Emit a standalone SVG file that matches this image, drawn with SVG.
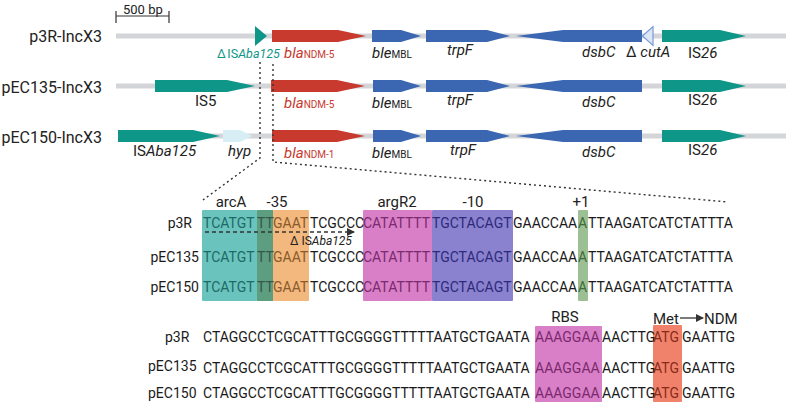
<svg xmlns="http://www.w3.org/2000/svg" width="789" height="405" viewBox="0 0 789 405">
<defs>
<style>
text{font-family:Roboto,"Liberation Sans",sans-serif;fill:#222}
.rl{font-size:16px;text-anchor:end}
.gl{font-size:15px}
.it{font-style:italic}
.sub{font-size:10px;font-style:normal}
.bb{fill:#d3d5d9}
.teal{fill:#0e9688}
.red{fill:#c8392e}
.blue{fill:#3b66b2}
.seq{font-size:14px;fill:#1a1a1a}
.lab{font-size:15px;text-anchor:middle}
.dot{fill:none;stroke:#333;stroke-width:1.4;stroke-dasharray:2 3}
</style>
<marker id="ah" markerWidth="8" markerHeight="8" refX="7" refY="4" orient="auto" markerUnits="userSpaceOnUse">
<path d="M0,0 L8,4 L0,8 Z" fill="#333"/>
</marker>
</defs>
<rect width="789" height="405" fill="#fff"/>

<g id="scalebar">
<text x="123" y="14" style="font-size:13px">500 bp</text>
<path d="M116,16 H169 M116,11 V23 M169,11 V23" stroke="#333" stroke-width="1.2" fill="none"/>
</g>

<g id="row-p3R">
<text class="rl" x="102" y="42">p3R-IncX3</text>
<rect class="bb" x="116" y="33.5" width="670" height="5"/>
<polygon class="teal" points="255,26 267,36 255,46"/>
<polygon class="red" points="272,30 338,30 366,36 338,42 272,42"/>
<polygon class="blue" points="372,30 401,30 421,36 401,42 372,42"/>
<polygon class="blue" points="426,30 487,30 510,36 487,42 426,42"/>
<polygon class="blue" points="516,36 563,30 642,30 642,42 563,42"/>
<polygon points="642.5,36 653,26.5 653,45.5" fill="#dce6f5" stroke="#7a9ad6" stroke-width="1.2"/>
<polygon class="teal" points="662,30 720,30 746,36 720,42 662,42"/>
<text x="217" y="58" style="fill:#0e9688;font-size:12.5px">Δ<tspan dx="1.5" style="fill:#0e9688">IS</tspan><tspan class="it" style="fill:#0e9688">Aba125</tspan></text>
<text class="gl it" x="284" y="58" style="fill:#c8392e">bla<tspan class="sub" style="fill:#c8392e">NDM-5</tspan></text>
<text class="gl it" x="372" y="58">ble<tspan class="sub">MBL</tspan></text>
<text class="gl it" x="447" y="55">trpF</text>
<text class="gl it" x="582" y="57">dsbC</text>
<text class="gl" x="626" y="57">Δ <tspan class="it">cutA</tspan></text>
<text class="gl" x="688" y="58">IS<tspan class="it">26</tspan></text>
</g>

<g id="row-pEC135">
<text class="rl" x="102" y="93">pEC135-IncX3</text>
<rect class="bb" x="116" y="83.5" width="670" height="5"/>
<polygon class="teal" points="155,80 227,80 255,86 227,92 155,92"/>
<polygon class="red" points="271,80 337,80 365,86 337,92 271,92"/>
<polygon class="blue" points="373,80 401,80 421,86 401,92 373,92"/>
<polygon class="blue" points="426,80 487,80 510,86 487,92 426,92"/>
<polygon class="blue" points="516,86 563,80 642,80 642,92 563,92"/>
<polygon class="teal" points="662,80 720,80 746,86 720,92 662,92"/>
<text class="gl" x="195" y="106">IS5</text>
<text class="gl it" x="284" y="108" style="fill:#c8392e">bla<tspan class="sub" style="fill:#c8392e">NDM-5</tspan></text>
<text class="gl it" x="372" y="108">ble<tspan class="sub">MBL</tspan></text>
<text class="gl it" x="447" y="105">trpF</text>
<text class="gl it" x="582" y="107">dsbC</text>
<text class="gl" x="688" y="105">IS<tspan class="it">26</tspan></text>
</g>

<g id="row-pEC150">
<text class="rl" x="102" y="143">pEC150-IncX3</text>
<rect class="bb" x="118" y="133.5" width="668" height="5"/>
<polygon class="teal" points="118,130 193,130 220,136 193,142 118,142"/>
<polygon points="223,130 240,130 252,136 240,142 223,142" fill="#d8eef5"/>
<polygon class="red" points="272,130 337,130 365,136 337,142 272,142"/>
<polygon class="blue" points="373,130 401,130 421,136 401,142 373,142"/>
<polygon class="blue" points="426,130 487,130 510,136 487,142 426,142"/>
<polygon class="blue" points="516,136 563,130 642,130 642,142 563,142"/>
<polygon class="teal" points="662,130 720,130 746,136 720,142 662,142"/>
<text class="gl" x="133" y="156">IS<tspan class="it">Aba125</tspan></text>
<text class="gl it" x="228" y="156">hyp</text>
<text class="gl it" x="284" y="158" style="fill:#c8392e">bla<tspan class="sub" style="fill:#c8392e">NDM-1</tspan></text>
<text class="gl it" x="372" y="158">ble<tspan class="sub">MBL</tspan></text>
<text class="gl it" x="450" y="155">trpF</text>
<text class="gl it" x="582" y="157">dsbC</text>
<text class="gl" x="688" y="155">IS<tspan class="it">26</tspan></text>
</g>

<g id="connectors">
<polyline class="dot" points="260,62 260,158 203,200"/>
<polyline class="dot" points="273,64 273,162 728,202"/>
</g>

<g id="promoter">
<rect x="202" y="210" width="55" height="91" fill="#6bc3bd" rx="1"/>
<rect x="257" y="210" width="16" height="91" fill="#5e9e80"/>
<rect x="273" y="210" width="36" height="91" fill="#f2b87e" rx="1"/>
<rect x="363" y="210" width="69" height="91" fill="#d97fc7" rx="1"/>
<rect x="432" y="210" width="81" height="91" fill="#8a82cf" rx="1"/>
<rect x="578" y="210" width="10" height="91" fill="#9dbf94" rx="1"/>
<text class="lab" x="231" y="207">arcA</text>
<text class="lab" x="277" y="207">-35</text>
<text class="lab" x="397" y="207">argR2</text>
<text class="lab" x="473" y="207">-10</text>
<text class="lab" x="581" y="207">+1</text>
<g id="seqrows-top">
<text class="seq" x="192" y="228" style="text-anchor:end">p3R</text>
<text class="seq" x="199" y="262" style="text-anchor:end">pEC135</text>
<text class="seq" x="199" y="292" style="text-anchor:end">pEC150</text>
</g>
<text class="seq" y="228"><tspan x="203" style="fill:#1d6a66">TCATGT</tspan><tspan x="257" style="fill:#34584a">TT</tspan><tspan x="273" style="fill:#8a5a2a">GAAT</tspan><tspan x="310">TCGCCC</tspan><tspan x="363" style="fill:#7a2a6e">CATATTTT</tspan><tspan x="432" style="fill:#2e2a7a">TGCTACAGT</tspan><tspan x="513">GAACCAA</tspan><tspan x="578" style="fill:#3d6a3a">A</tspan><tspan x="588">TTAAGATCATCTATTTA</tspan></text>
<text class="seq" y="262"><tspan x="203" style="fill:#1d6a66">TCATGT</tspan><tspan x="257" style="fill:#34584a">TT</tspan><tspan x="273" style="fill:#8a5a2a">GAAT</tspan><tspan x="310">TCGCCC</tspan><tspan x="363" style="fill:#7a2a6e">CATATTTT</tspan><tspan x="432" style="fill:#2e2a7a">TGCTACAGT</tspan><tspan x="513">GAACCAA</tspan><tspan x="578" style="fill:#3d6a3a">A</tspan><tspan x="588">TTAAGATCATCTATTTA</tspan></text>
<text class="seq" y="292"><tspan x="203" style="fill:#1d6a66">TCATGT</tspan><tspan x="257" style="fill:#34584a">TT</tspan><tspan x="273" style="fill:#8a5a2a">GAAT</tspan><tspan x="310">TCGCCC</tspan><tspan x="363" style="fill:#7a2a6e">CATATTTT</tspan><tspan x="432" style="fill:#2e2a7a">TGCTACAGT</tspan><tspan x="513">GAACCAA</tspan><tspan x="578" style="fill:#3d6a3a">A</tspan><tspan x="588">TTAAGATCATCTATTTA</tspan></text>
<line x1="205" y1="232" x2="354" y2="232" stroke="#333" stroke-width="1.3" stroke-dasharray="4 3" marker-end="url(#ah)"/>
<text x="290" y="245" style="font-size:12px">Δ IS<tspan class="it">Aba125</tspan></text>
</g>

<g id="rbs">
<rect x="535" y="326" width="67" height="76" fill="#d97fc7" rx="1"/>
<rect x="653" y="325" width="29" height="77" fill="#f0826b" rx="1"/>
<text class="lab" x="565" y="322">RBS</text>
<text x="653" y="324" style="font-size:15px">Met</text>
<line x1="680" y1="318" x2="703" y2="318" stroke="#222" stroke-width="1.2" marker-end="url(#ah)"/>
<text x="704" y="324" style="font-size:15px">NDM</text>
<text class="seq" x="165" y="342">p3R</text>
<text class="seq" x="148" y="371">pEC135</text>
<text class="seq" x="148" y="398">pEC150</text>
<text class="seq" y="342"><tspan x="203">CTAGGCCTCGCATTTGCGGGGTTTTTAATGCTGAATA</tspan><tspan x="535" style="fill:#7a2a6e">AAAGGAA</tspan><tspan x="602">AACTTG</tspan><tspan x="653" style="fill:#8a2a1a">ATG</tspan><tspan x="682">GAATTG</tspan></text>
<text class="seq" y="373"><tspan x="203">CTAGGCCTCGCATTTGCGGGGTTTTTAATGCTGAATA</tspan><tspan x="535" style="fill:#7a2a6e">AAAGGAA</tspan><tspan x="602">AACTTG</tspan><tspan x="653" style="fill:#8a2a1a">ATG</tspan><tspan x="682">GAATTG</tspan></text>
<text class="seq" y="398"><tspan x="203">CTAGGCCTCGCATTTGCGGGGTTTTTAATGCTGAATA</tspan><tspan x="535" style="fill:#7a2a6e">AAAGGAA</tspan><tspan x="602">AACTTG</tspan><tspan x="653" style="fill:#8a2a1a">ATG</tspan><tspan x="682">GAATTG</tspan></text>
</g>
</svg>
